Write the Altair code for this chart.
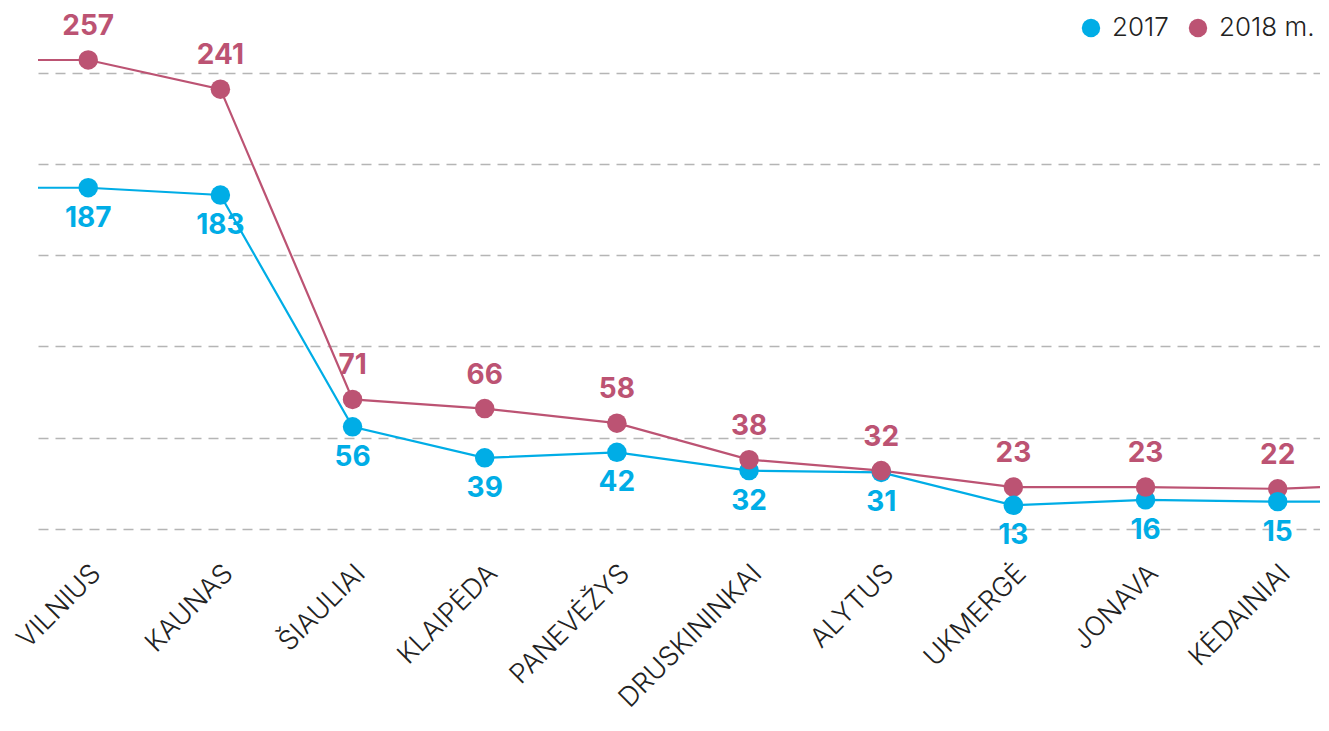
import json
import altair as alt
import pandas as pd

# ---- data ----
cities = ["VILNIUS", "KAUNAS", "ŠIAULIAI", "KLAIPĖDA", "PANEVĖŽYS",
          "DRUSKININKAI", "ALYTUS", "UKMERGĖ", "JONAVA", "KĖDAINIAI"]
v2017 = [187, 183, 56, 39, 42, 32, 31, 13, 16, 15]
v2018 = [257, 241, 71, 66, 58, 38, 32, 23, 23, 22]
series_names = ["2017", "2018 m."]
colors = ["#00ADE6", "#BC5373"]
# line continuation past the first / last city
edge_idx = [-0.38, 9.32]
edge_2017 = [187, 15]
edge_2018 = [257, 23]
grid_values = [0, 50, 100, 150, 200, 250]

rows = []
for i, c in enumerate(cities):
    rows.append(dict(idx=i, city=c, value=v2017[i], series=series_names[0], edge=False))
    rows.append(dict(idx=i, city=c, value=v2018[i], series=series_names[1], edge=False))
for j, xi in enumerate(edge_idx):
    rows.append(dict(idx=xi, city="", value=edge_2017[j], series=series_names[0], edge=True))
    rows.append(dict(idx=xi, city="", value=edge_2018[j], series=series_names[1], edge=True))
df = pd.DataFrame(rows).sort_values("idx")

label_expr = json.dumps(cities, ensure_ascii=False) + "[datum.value]"

FONT = "Inter"

x_enc = alt.X(
    "idx:Q",
    scale=alt.Scale(domain=[edge_idx[0], edge_idx[1]], nice=False, zero=False),
    axis=alt.Axis(
        values=list(range(len(cities))), labelExpr=label_expr, title=None,
        domain=False, ticks=False, grid=False, labelAngle=-45,
        labelAlign="right", labelBaseline="middle", labelPadding=40,
        labelOffset=8, labelLimit=400,
        labelFont=FONT, labelFontWeight=300, labelFontSize=27, labelColor="#222222",
        labelFlush=False, labelOverlap=False,
    ),
)
y_enc = alt.Y(
    "value:Q",
    scale=alt.Scale(domain=[0, 280], nice=False, zero=True),
    axis=alt.Axis(
        values=grid_values, title=None, labels=False, ticks=False, domain=False,
        grid=True, gridDash=[10, 7], gridColor="#b5b5b5", gridWidth=1.3,
    ),
)

base = alt.Chart(df)

line17 = base.transform_filter(alt.datum.series == series_names[0]).mark_line(
    strokeWidth=2.2, color=colors[0]).encode(x=x_enc, y=y_enc, order="idx:Q")
line18 = base.transform_filter(alt.datum.series == series_names[1]).mark_line(
    strokeWidth=2.2, color=colors[1]).encode(x=x_enc, y=y_enc, order="idx:Q")

points = base.transform_filter(alt.datum.edge == False).mark_point(
    filled=True, opacity=1, size=380, strokeWidth=0).encode(
    x=x_enc, y=y_enc,
    color=alt.Color(
        "series:N",
        scale=alt.Scale(domain=series_names, range=colors),
        legend=alt.Legend(
            orient="none", legendX=1040, legendY=-3, direction="horizontal",
            title=None, labelFont=FONT, labelFontSize=26, labelFontWeight=300,
            labelColor="#222222", symbolType="circle", symbolSize=340,
            symbolStrokeWidth=0, labelOffset=8, columnPadding=16,
        ),
    ),
)

text18 = base.transform_filter(
    (alt.datum.series == series_names[1]) & (alt.datum.edge == False)
).mark_text(dy=-33, font=FONT, fontSize=28, fontWeight="bold", color=colors[1]).encode(
    x=x_enc, y=y_enc, text="value:Q")
text17 = base.transform_filter(
    (alt.datum.series == series_names[0]) & (alt.datum.edge == False)
).mark_text(dy=31, font=FONT, fontSize=28, fontWeight="bold", color=colors[0]).encode(
    x=x_enc, y=y_enc, text="value:Q")

chart = alt.layer(line17, line18, points, text18, text17).properties(
    width=1282, height=511,
    autosize=alt.AutoSizeParams(type="none"),
    padding={"left": 30, "top": 10, "right": 0, "bottom": 202},
    background="white",
).configure_view(stroke=None)

chart.save("out.html", embed_options={"renderer": "svg", "actions": False})
